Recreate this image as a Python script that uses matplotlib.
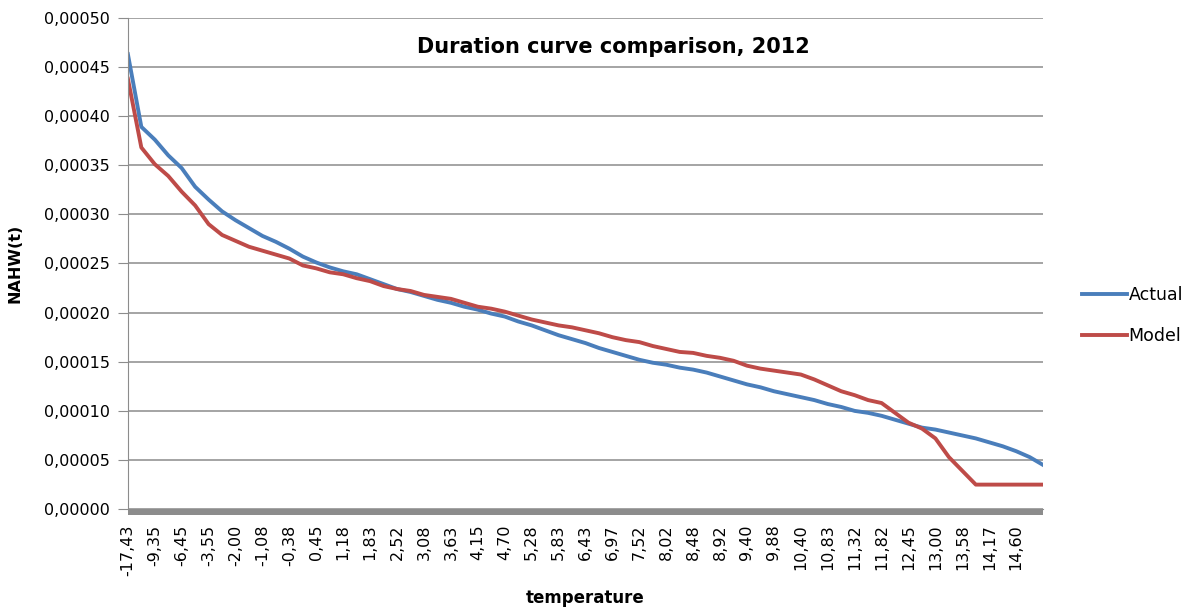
import matplotlib
matplotlib.use("Agg")
import matplotlib.pyplot as plt
from matplotlib.patches import Rectangle
from matplotlib.ticker import FuncFormatter, MultipleLocator

plt.rcParams['font.family'] = ['DejaVu Sans']

# temperature labels shown on the category axis (one every 2 samples)
temp_labels = ["-17,43", "-9,35", "-6,45", "-3,55", "-2,00", "-1,08", "-0,38",
               "0,45", "1,18", "1,83", "2,52", "3,08", "3,63", "4,15", "4,70",
               "5,28", "5,83", "6,43", "6,97", "7,52", "8,02", "8,48", "8,92",
               "9,40", "9,88", "10,40", "10,83", "11,32", "11,82", "12,45",
               "13,00", "13,58", "14,17", "14,60"]

# NAHW(t) duration curves, in units of 1e-5
actual = [46.3, 38.9, 37.6, 36.0, 34.7, 32.8, 31.5, 30.3, 29.4, 28.6,
          27.8, 27.2, 26.5, 25.7, 25.1, 24.6, 24.2, 23.9, 23.4, 22.9,
          22.4, 22.1, 21.7, 21.3, 21.0, 20.6, 20.3, 19.9, 19.6, 19.1,
          18.7, 18.2, 17.7, 17.3, 16.9, 16.4, 16.0, 15.6, 15.2, 14.9,
          14.7, 14.4, 14.2, 13.9, 13.5, 13.1, 12.7, 12.4, 12.0, 11.7,
          11.4, 11.1, 10.7, 10.4, 10.0, 9.8, 9.5, 9.1, 8.7, 8.3,
          8.1, 7.8, 7.5, 7.2, 6.8, 6.4, 5.9, 5.3, 4.5]
model = [43.8, 36.8, 35.1, 33.9, 32.3, 30.9, 29.0, 27.9, 27.3, 26.7,
         26.3, 25.9, 25.5, 24.8, 24.5, 24.1, 23.9, 23.5, 23.2, 22.7,
         22.4, 22.2, 21.8, 21.6, 21.4, 21.0, 20.6, 20.4, 20.1, 19.7,
         19.3, 19.0, 18.7, 18.5, 18.2, 17.9, 17.5, 17.2, 17.0, 16.6,
         16.3, 16.0, 15.9, 15.6, 15.4, 15.1, 14.6, 14.3, 14.1, 13.9,
         13.7, 13.2, 12.6, 12.0, 11.6, 11.1, 10.8, 9.8, 8.8, 8.2,
         7.2, 5.3, 3.9, 2.5, 2.5, 2.5, 2.5, 2.5, 2.5]

actual = [v * 1e-5 for v in actual]
model = [v * 1e-5 for v in model]
x = list(range(len(actual)))

fig = plt.figure(figsize=(11.84, 6.12), dpi=100)
ax = fig.add_axes([0.108, 0.168, 0.773, 0.803])

ax.plot(x, actual, color="#4A7EBB", lw=2.8, label="Actual", solid_joinstyle="round")
ax.plot(x, model, color="#BE4B48", lw=2.8, label="Model", solid_joinstyle="round")

ax.set_xlim(0, len(x) - 1)
ax.set_ylim(0, 0.0005)
ax.yaxis.set_major_locator(MultipleLocator(0.00005))
ax.yaxis.set_major_formatter(FuncFormatter(lambda v, p: f"{v:.5f}".replace(".", ",")))
ax.grid(axis="y", color="#8C8C8C", lw=1.1)
ax.set_axisbelow(True)

ax.set_xticks(range(0, 2 * len(temp_labels), 2))
ax.set_xticklabels(temp_labels, rotation=90, fontsize=11.5)
ax.tick_params(axis="x", length=0, pad=11)
ax.tick_params(axis="y", labelsize=11.5, length=7, color="#8C8C8C", pad=6)

for s in ["top", "right"]:
    ax.spines[s].set_visible(False)
ax.spines["left"].set_color("#8C8C8C")
ax.spines["bottom"].set_color("#8C8C8C")

# dense category tick marks look like a thick grey band under the axis
ax.add_patch(Rectangle((0, -0.012), 1, 0.012, transform=ax.transAxes,
                       color="#8C8C8C", clip_on=False, lw=0))

ax.set_ylabel("NAHW(t)", fontsize=11.5, fontweight="bold")
ax.yaxis.set_label_coords(-0.115, 0.5)
ax.set_xlabel("temperature", fontsize=12, fontweight="bold")
ax.xaxis.set_label_coords(0.4995, -0.162)
ax.text(0.53, 0.94, "Duration curve comparison, 2012", transform=ax.transAxes,
        ha="center", va="center", fontsize=15, fontweight="bold")

ax.legend(loc="center left", bbox_to_anchor=(1.025, 0.394), frameon=False,
          fontsize=12.5, handlelength=2.6, handletextpad=0.1, labelspacing=1.35)

fig.savefig("out.png", dpi=100)
